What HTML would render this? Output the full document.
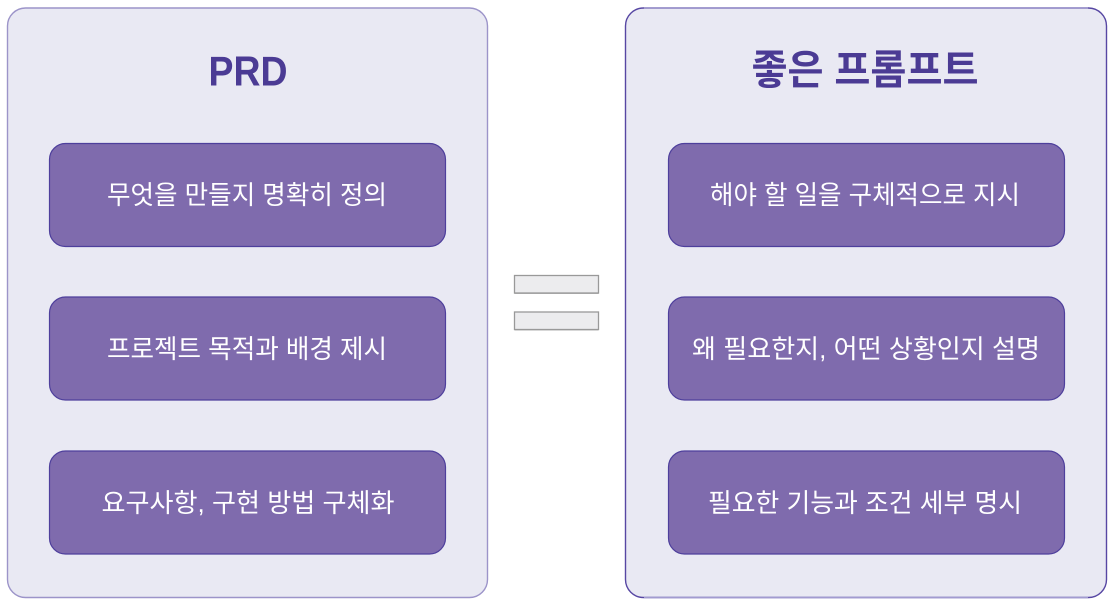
<!DOCTYPE html>
<html><head><meta charset="utf-8"><style>
html,body{margin:0;padding:0;background:#fff;width:1116px;height:607px;overflow:hidden}
svg{display:block}
</style></head><body>
<svg width="1116" height="607" viewBox="0 0 1116 607" xmlns="http://www.w3.org/2000/svg">
<!-- left panel -->
<rect x="7.5" y="8" width="480" height="589.5" rx="18" ry="18" fill="#e9e9f3" stroke="#9c94c9" stroke-width="1.4"/>
<!-- right panel -->
<rect x="625.5" y="8" width="481" height="589.5" rx="18" ry="18" fill="#e9e9f3" stroke="#5747a3" stroke-width="1.4"/>
<line x1="644" y1="8" x2="1088" y2="8" stroke="#a29bd0" stroke-width="1.6"/>
<line x1="644" y1="597.5" x2="1088" y2="597.5" stroke="#a29bd0" stroke-width="1.6"/>

<text x="248" y="71" text-anchor="middle" dominant-baseline="central" font-family="'Liberation Sans','Noto Sans CJK KR',sans-serif" font-weight="bold" font-size="42" fill="#4b3b94" textLength="79" lengthAdjust="spacingAndGlyphs">PRD</text>
<text x="865" y="70" text-anchor="middle" dominant-baseline="central" font-family="'Liberation Sans','Noto Sans CJK KR',sans-serif" font-weight="bold" font-size="41" fill="#4b3b94" textLength="227" lengthAdjust="spacingAndGlyphs">좋은 프롬프트</text>

<g fill="#7f6bad" stroke="#4e3f9c" stroke-width="1.2">
<rect x="49.5" y="143.5" width="396" height="103" rx="16" ry="16"/>
<rect x="49.5" y="297" width="396" height="103" rx="16" ry="16"/>
<rect x="49.5" y="451" width="396" height="103" rx="16" ry="16"/>
<rect x="668.5" y="143.5" width="396" height="103" rx="16" ry="16"/>
<rect x="668.5" y="297" width="396" height="103" rx="16" ry="16"/>
<rect x="668.5" y="451" width="396" height="103" rx="16" ry="16"/>
</g>

<g font-family="'Liberation Sans','Noto Sans CJK KR',sans-serif" font-size="26" fill="#ffffff" text-anchor="middle" dominant-baseline="central">
<text x="247" y="195" textLength="280" lengthAdjust="spacingAndGlyphs">무엇을 만들지 명확히 정의</text>
<text x="247" y="349" textLength="280" lengthAdjust="spacingAndGlyphs">프로젝트 목적과 배경 제시</text>
<text x="248" y="503" textLength="293" lengthAdjust="spacingAndGlyphs">요구사항, 구현 방법 구체화</text>
<text x="865" y="195" textLength="310" lengthAdjust="spacingAndGlyphs">해야 할 일을 구체적으로 지시</text>
<text x="866" y="349" textLength="348" lengthAdjust="spacingAndGlyphs">왜 필요한지, 어떤 상황인지 설명</text>
<text x="865" y="503" textLength="314" lengthAdjust="spacingAndGlyphs">필요한 기능과 조건 세부 명시</text>
</g>

<!-- equals sign -->
<rect x="514.5" y="276" width="84" height="18" fill="#b8b8b8"/>
<rect x="514.5" y="312.5" width="84" height="18" fill="#b8b8b8"/>
<rect x="514.5" y="275.5" width="84" height="17.5" fill="#ececee" stroke="#999999" stroke-width="1.3"/>
<rect x="514.5" y="312" width="84" height="17.5" fill="#ececee" stroke="#999999" stroke-width="1.3"/>
</svg>
</body></html>
